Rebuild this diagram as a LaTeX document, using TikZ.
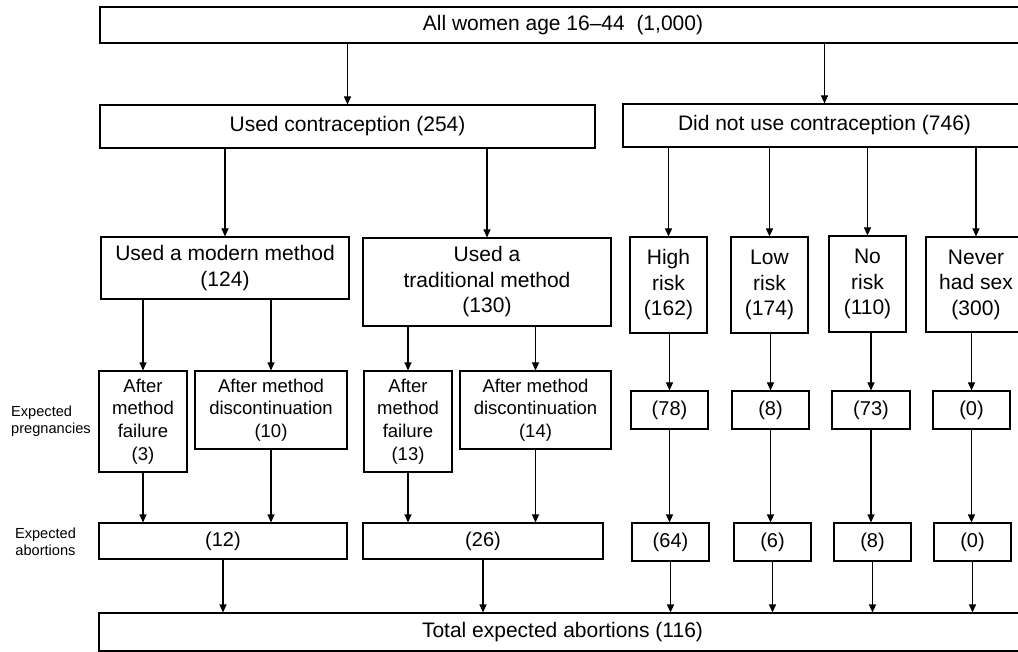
\documentclass[tikz,border=0pt]{standalone}
\usepackage{fontspec}
\setmainfont{Liberation Sans}
\usetikzlibrary{arrows.meta}
\begin{document}
\begin{tikzpicture}[x=1pt,y=-1pt,
 box/.style={draw, line width=1.1pt, inner sep=2pt, align=center, font=\fontsize{21}{25.5}\selectfont},
 sbox/.style={box, font=\fontsize{18.5}{22.7}\selectfont},
 nbox/.style={box, font=\fontsize{20}{24}\selectfont},
 lbl/.style={inner sep=0pt, font=\fontsize{14.6}{17}\selectfont},
 arr/.style={line width=1.1pt, -{Triangle[length=8pt,width=7pt]}}]
\useasboundingbox (0,0) rectangle (1018,652);
% top levels
\node[box, minimum width=926pt, minimum height=36pt] (top) at (563,25) {All women age 16–44\ \ (1,000)};
\node[box, minimum width=495pt, minimum height=43pt] (uc) at (347.5,126.5) {Used contraception (254)};
\node[box, minimum width=403pt, minimum height=43pt] (dn) at (824.5,125.5) {Did not use contraception (746)};
% methods and risk groups
\node[box, minimum width=248pt, minimum height=62pt] (mod) at (225,268) {Used a modern method\\(124)};
\node[box, minimum width=248pt, minimum height=88pt] (trad) at (487,282) {Used a\\traditional method\\(130)};
\node[box, minimum width=77pt, minimum height=96pt] (hr) at (668.5,285) {High\\risk\\(162)};
\node[box, minimum width=77pt, minimum height=96pt] (lr) at (769.5,285) {Low\\risk\\(174)};
\node[box, minimum width=77pt, minimum height=96pt] (nr) at (867.5,284) {No\\risk\\(110)};
\node[box, minimum width=100pt, minimum height=95pt] (ns) at (976,284.5) {Never\\had sex\\(300)};
% expected pregnancies
\node[sbox, minimum width=88pt, minimum height=101pt] (f1) at (143,421.5) {After\\method\\failure\\(3)};
\node[sbox, minimum width=152pt, minimum height=78pt] (d1) at (271,410) {After method\\discontinuation\\(10)};
\node[sbox, minimum width=88pt, minimum height=101pt] (f2) at (408,421.5) {After\\method\\failure\\(13)};
\node[sbox, minimum width=151pt, minimum height=78pt] (d2) at (535.5,410) {After method\\discontinuation\\(14)};
\node[nbox, minimum width=77pt, minimum height=38pt] (p1) at (669.5,410) {(78)};
\node[nbox, minimum width=77pt, minimum height=38pt] (p2) at (770.5,410) {(8)};
\node[nbox, minimum width=78pt, minimum height=38pt] (p3) at (871,410) {(73)};
\node[nbox, minimum width=77pt, minimum height=38pt] (p4) at (971.5,410) {(0)};
% expected abortions
\node[nbox, minimum width=248pt, minimum height=36pt] (a1) at (223,541) {(12)};
\node[nbox, minimum width=240pt, minimum height=36pt] (a2) at (483,541) {(26)};
\node[nbox, minimum width=77pt, minimum height=38pt] (a3) at (670.5,542) {(64)};
\node[nbox, minimum width=77pt, minimum height=38pt] (a4) at (772.5,542) {(6)};
\node[nbox, minimum width=77pt, minimum height=38pt] (a5) at (872.5,542) {(8)};
\node[nbox, minimum width=77pt, minimum height=38pt] (a6) at (972.5,542) {(0)};
% total
\node[box, minimum width=927pt, minimum height=38pt] (tot) at (562.5,632) {Total expected abortions (116)};
% row labels
\node[lbl, anchor=west, align=left] (lp) at (11,421) {Expected\\pregnancies};
\node[lbl, align=center] (la) at (45.5,542) {Expected\\abortions};
% connectors
\draw[arr] (top.south -| uc.north) -- (uc.north);
\draw[arr] (top.south -| dn.north) -- (dn.north);
\draw[arr] (uc.south -| mod.north) -- (mod.north);
\draw[arr] (uc.south -| trad.north) -- (trad.north);
\foreach \n in {hr,lr,nr,ns} \draw[arr] (dn.south -| \n.north) -- (\n.north);
\draw[arr] (mod.south -| f1.north) -- (f1.north);
\draw[arr] (mod.south -| d1.north) -- (d1.north);
\draw[arr] (trad.south -| f2.north) -- (f2.north);
\draw[arr] (trad.south -| d2.north) -- (d2.north);
\draw[arr] (hr.south -| p1.north) -- (p1.north);
\draw[arr] (lr.south -| p2.north) -- (p2.north);
\draw[arr] (nr.south -| p3.north) -- (p3.north);
\draw[arr] (ns.south -| p4.north) -- (p4.north);
\draw[arr] (f1.south) -- (f1.south |- a1.north);
\draw[arr] (d1.south) -- (d1.south |- a1.north);
\draw[arr] (f2.south) -- (f2.south |- a2.north);
\draw[arr] (d2.south) -- (d2.south |- a2.north);
\draw[arr] (p1.south) -- (p1.south |- a3.north);
\draw[arr] (p2.south) -- (p2.south |- a4.north);
\draw[arr] (p3.south) -- (p3.south |- a5.north);
\draw[arr] (p4.south) -- (p4.south |- a6.north);
\foreach \n in {a1,a2,a3,a4,a5,a6} \draw[arr] (\n.south) -- (\n.south |- tot.north);
\end{tikzpicture}
\end{document}
